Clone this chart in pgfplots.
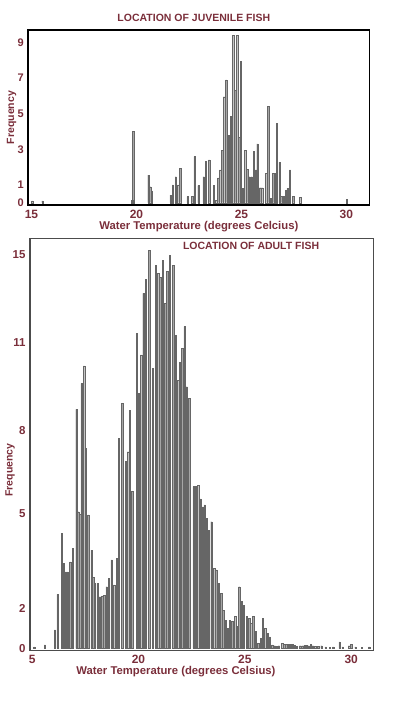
\documentclass[border=0pt]{standalone}
\usepackage{pgfplots}
\pgfplotsset{compat=1.18}
\usepackage{fontspec}
\setmainfont{Liberation Sans}
\definecolor{lab}{HTML}{7A2E3A}
\definecolor{barfill}{HTML}{A6A6A6}
\definecolor{baredge}{HTML}{666666}
\begin{document}
\begin{tikzpicture}
\useasboundingbox (0,0) rectangle (399bp,707bp);
% ---------------- Juvenile fish ----------------
\begin{axis}[
  at={(28.3bp,502bp)}, anchor=south west,
  scale only axis, width=341bp, height=175bp,
  xmin=14.85, xmax=31.09, ymin=-0.13, ymax=9.71,
  xtick={15,20,25,30}, ytick={0,1,3,5,7,9},
  major tick length=0pt,
  axis line style={line width=1.6bp, black},
  /pgf/number format/assume math mode=true,
  xticklabel style={font=\fontsize{12bp}{12bp}\selectfont\bfseries, text=lab, anchor=base, yshift=-14bp},
  yticklabel style={font=\fontsize{11bp}{11bp}\selectfont\bfseries, text=lab, xshift=-1bp},
  title={LOCATION OF JUVENILE FISH},
  every axis title/.style={font=\fontsize{10.5bp}{11bp}\selectfont\bfseries, text=lab, at={(axis description cs:0.5,1)}, anchor=base, yshift=8.3bp, xshift=-5bp},
  xlabel={Water Temperature (degrees Celcius)},
  every axis x label/.style={at={(axis description cs:0.5,0)}, anchor=base, yshift=-25bp, font=\fontsize{11.3bp}{12bp}\selectfont\bfseries, text=lab},
  ylabel={Frequency},
  every axis y label/.style={at={(axis description cs:-0.0487,0.5)}, rotate=90, anchor=center, font=\fontsize{10.5bp}{11bp}\selectfont\bfseries, text=lab},
  clip=true,
]
\addplot[ybar, bar width=0.065, bar shift=0pt, fill=barfill, draw=baredge, line width=0.35bp] coordinates {
(15.04,0.1) (15.52,0.1) (19.79,0.15) (19.85,4.0) (20.57,1.55) (20.65,0.9) (20.74,0.67)
(21.63,0.43) (21.73,1.0) (21.87,1.46) (21.98,1.0) (22.09,1.93) (22.44,0.34) (22.66,0.34)
(22.77,2.59) (22.95,0.96) (23.20,1.46) (23.31,2.34) (23.46,2.4) (23.68,0.96) (23.79,0.15)
(23.90,1.4) (23.98,1.84) (24.08,2.96) (24.17,5.96) (24.28,6.9) (24.38,3.8) (24.50,4.84)
(24.60,9.4) (24.70,6.3) (24.79,9.4) (24.89,3.67) (24.97,7.93) (25.06,0.8) (25.17,2.93)
(25.27,1.88) (25.38,1.46) (25.49,1.46) (25.59,2.87) (25.68,1.84) (25.76,3.3) (25.89,0.84)
(25.98,0.84) (26.17,1.65) (26.28,5.4) (26.39,0.24) (26.52,1.65) (26.62,1.65) (26.69,4.46)
(26.81,2.27) (26.90,0.34) (27.00,0.34) (27.11,0.71) (27.20,0.8) (27.31,1.84) (27.47,0.34)
(27.79,0.3) (30.02,0.19)
};
\end{axis}
% ---------------- Adult fish ----------------
\begin{axis}[
  at={(30bp,56.3bp)}, anchor=south west,
  scale only axis, width=343.3bp, height=412.4bp,
  xmin=14.90, xmax=31.04, ymin=-0.09, ymax=15.64,
  xtick={15,20,25,30}, xticklabels={5,20,25,30},
  ytick={0,1.53,5.15,8.30,11.66,15}, yticklabels={0,2,5,8,11,15},
  major tick length=0pt,
  axis line style={line width=1.3bp, black!70},
  /pgf/number format/assume math mode=true,
  xticklabel style={font=\fontsize{12bp}{12bp}\selectfont\bfseries, text=lab, anchor=base, yshift=-12.3bp},
  yticklabel style={font=\fontsize{11.5bp}{12bp}\selectfont\bfseries, text=lab, xshift=-1bp},
  title={LOCATION OF ADULT FISH},
  every axis title/.style={font=\fontsize{10.5bp}{11bp}\selectfont\bfseries, text=lab, at={(axis description cs:0.644,1)}, anchor=base, yshift=-11bp},
  xlabel={Water Temperature (degrees Celsius)},
  every axis x label/.style={at={(axis description cs:0.5,0)}, anchor=base, yshift=-23.3bp, xshift=-25.7bp, font=\fontsize{11.3bp}{12bp}\selectfont\bfseries, text=lab},
  ylabel={Frequency},
  every axis y label/.style={at={(axis description cs:-0.058,0.438)}, rotate=90, anchor=center, font=\fontsize{10.5bp}{11bp}\selectfont\bfseries, text=lab},
  clip=true,
]
\addplot[ybar, bar width=0.065, bar shift=0pt, fill=barfill, draw=baredge, line width=0.35bp] coordinates {
(15.10,0.06) (15.60,0.13) (16.07,0.7) (16.20,2.06) (16.39,4.39) (16.48,3.24) (16.58,2.92)
(16.67,2.92) (16.79,3.3) (16.92,3.81) (17.08,9.11) (17.17,5.21) (17.25,5.1) (17.33,10.1)
(17.44,10.77) (17.52,7.63) (17.64,5.09) (17.80,3.75) (17.87,2.71) (17.95,2.50) (18.08,2.48)
(18.19,1.97) (18.30,2.0) (18.39,2.03) (18.50,2.35) (18.61,2.67) (18.74,3.37) (18.85,2.42)
(18.98,3.43) (19.08,8.0) (19.24,9.34) (19.40,7.12) (19.51,7.5) (19.60,9.09) (19.71,5.98)
(19.92,12.01) (20.01,9.73) (20.12,11.19) (20.23,13.54) (20.34,14.07) (20.51,15.17)
(20.67,10.68) (20.81,14.62) (20.92,14.3) (21.02,14.15) (21.14,14.79) (21.25,13.16)
(21.35,14.37) (21.48,15.0) (21.64,14.62) (21.75,11.95) (21.86,10.23) (21.95,10.9)
(22.06,11.44) (22.17,12.27) (22.27,9.98) (22.39,9.53) (22.59,6.17) (22.69,6.17)
(22.80,6.23) (22.91,5.70) (23.02,5.40) (23.11,5.47) (23.22,4.96) (23.31,4.51) (23.43,4.83)
(23.55,3.05) (23.66,2.99) (23.78,2.48) (23.89,2.10) (23.99,1.46) (24.10,1.08) (24.19,0.76)
(24.30,1.08) (24.41,1.02) (24.54,1.21) (24.63,0.83) (24.74,2.35) (24.85,1.78) (24.96,1.65)
(25.09,1.21) (25.20,1.14) (25.29,0.95) (25.40,1.23) (25.51,0.64) (25.63,0.19) (25.75,0.38)
(25.84,1.14) (25.95,0.76) (26.06,0.57) (26.17,0.44) (26.29,0.13)
(26.40,0.1) (26.50,0.08) (26.60,0.1) (26.75,0.2) (26.85,0.15) (26.95,0.15) (27.05,0.15)
(27.15,0.15) (27.25,0.15) (27.35,0.12) (27.45,0.08) (27.60,0.1) (27.70,0.1) (27.80,0.12)
(27.90,0.12) (28.00,0.1) (28.10,0.15) (28.20,0.1) (28.30,0.08) (28.45,0.08) (28.60,0.1)
(28.80,0.06) (29.00,0.05) (29.15,0.06) (29.45,0.25) (29.60,0.06) (29.90,0.1) (30.00,0.15)
(30.20,0.06) (30.50,0.05) (30.85,0.06)
};
\end{axis}
\end{tikzpicture}
\end{document}
